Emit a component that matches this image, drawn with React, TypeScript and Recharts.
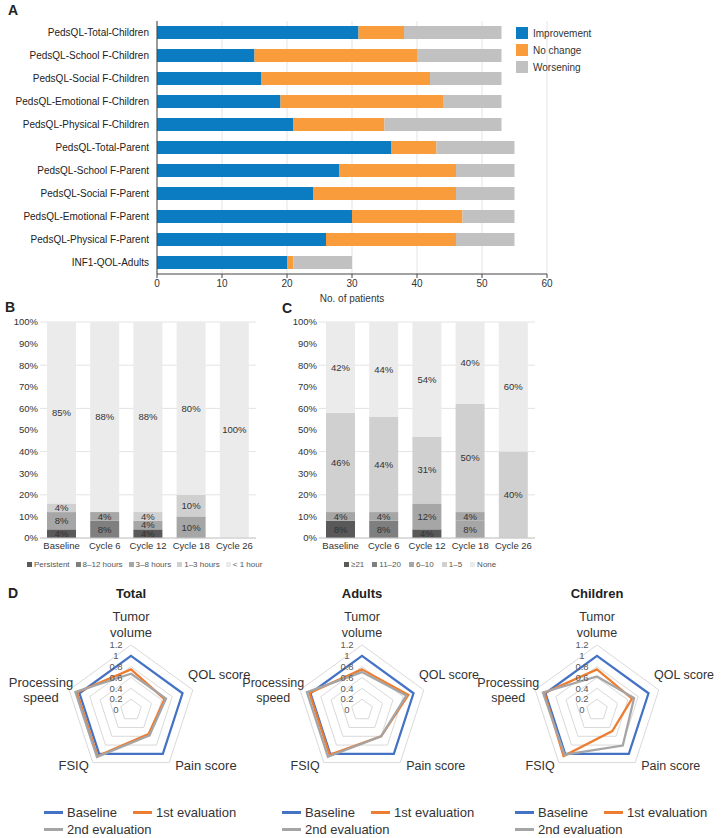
import React from 'react';
import {
  BarChart, Bar, XAxis, YAxis, CartesianGrid, LabelList, Cell,
  RadarChart, Radar, PolarGrid, PolarAngleAxis, PolarRadiusAxis,
} from 'recharts';

const FONT = '"Liberation Sans", Arial, Helvetica, sans-serif';

// ---- Panel A: change in QOL scores ----
const qolMeasures = [
  'PedsQL-Total-Children', 'PedsQL-School F-Children', 'PedsQL-Social F-Children',
  'PedsQL-Emotional F-Children', 'PedsQL-Physical F-Children', 'PedsQL-Total-Parent',
  'PedsQL-School F-Parent', 'PedsQL-Social F-Parent', 'PedsQL-Emotional F-Parent',
  'PedsQL-Physical F-Parent', 'INF1-QOL-Adults',
];
const improvement = [31, 15, 16, 19, 21, 36, 28, 24, 30, 26, 20];
const noChange = [7, 25, 26, 25, 14, 7, 18, 22, 17, 20, 1];
const worsening = [15, 13, 11, 9, 18, 12, 9, 9, 8, 9, 9];
const patientTicks = [0, 10, 20, 30, 40, 50, 60];

// ---- Panels B and C ----
const cycles = ['Baseline', 'Cycle 6', 'Cycle 12', 'Cycle 18', 'Cycle 26'];
const pctTicks = [0, 10, 20, 30, 40, 50, 60, 70, 80, 90, 100];

const durationLabels = ['Persistent', '8–12 hours', '3–8 hours', '1–3 hours', '< 1 hour'];
const persistentPct = [4, 0, 4, 0, 0];
const h8to12Pct = [0, 8, 0, 0, 0];
const h3to8Pct = [8, 4, 4, 10, 0];
const h1to3Pct = [4, 0, 4, 10, 0];
const under1hPct = [85, 88, 88, 80, 100];

const countLabels = ['≥21', '11–20', '6–10', '1–5', 'None'];
const over21Pct = [8, 0, 4, 0, 0];
const c11to20Pct = [0, 8, 0, 8, 0];
const c6to10Pct = [4, 4, 12, 4, 0];
const c1to5Pct = [46, 44, 31, 50, 40];
const noneCountPct = [42, 44, 54, 40, 60];

// ---- Panel D: radar ----
const radarAxes = ['Tumor volume', 'QOL score', 'Pain score', 'FSIQ', 'Processing speed'];
const radarTicks = [0, 0.2, 0.4, 0.6, 0.8, 1, 1.2];
const totalBaseline = [1, 1, 1, 1, 1];
const total1st = [0.75, 0.65, 0.55, 1.05, 1.05];
const total2nd = [0.67, 0.68, 0.58, 1.07, 1.08];
const adultsBaseline = [1, 1, 1, 1, 1];
const adults1st = [0.75, 0.9, 0.6, 1.02, 1.02];
const adults2nd = [0.7, 0.86, 0.6, 1.07, 1.07];
const childrenBaseline = [1, 1, 1, 1, 1];
const children1st = [0.75, 0.68, 0.48, 1.05, 1.02];
const children2nd = [0.62, 0.72, 0.81, 1.02, 1.05];

const GRAYS = ['#595959', '#7f7f7f', '#a6a6a6', '#d0d0d0', '#ebebeb'];
const KEYS = ['k0', 'k1', 'k2', 'k3', 'k4'];

const qolRows = qolMeasures.map((m, i) => ({
  measure: m, improvement: improvement[i], noChange: noChange[i], worsening: worsening[i],
}));

const toRows = (series: number[][]) =>
  cycles.map((c, i) => {
    const row: any = { cycle: c };
    series.forEach((s, k) => { row[KEYS[k]] = s[i]; });
    return row;
  });

const durationRows = toRows([persistentPct, h8to12Pct, h3to8Pct, h1to3Pct, under1hPct]);
const countRows = toRows([over21Pct, c11to20Pct, c6to10Pct, c1to5Pct, noneCountPct]);

const radarRows = (a: number[], b: number[], c: number[]) =>
  radarAxes.map((ax, i) => ({ axis: ax, baseline: a[i], first: b[i], second: c[i] }));

let ctx: CanvasRenderingContext2D | null = null;
const textWidth = (s: string, size: number) => {
  if (!ctx && typeof document !== 'undefined') ctx = document.createElement('canvas').getContext('2d');
  if (!ctx) return s.length * size * 0.5;
  ctx.font = `${size}px "Liberation Sans"`;
  return ctx.measureText(s).width;
};

const R = 65; // outer radius (= 1.2)

// Excel-like placement of the spoke labels, relative to the outer vertex
const makeAngleTick = (cx: number, cy: number, fs: number) => (props: any) => {
  const { x, y, payload } = props;
  const dx = x - cx, dy = y - cy;
  const d = Math.hypot(dx, dy) || 1;
  const vx = cx + (dx / d) * R, vy = cy + (dy / d) * R;
  const label = String(payload.value);
  const lines = label.length > 10 ? label.split(' ') : [label];
  const n = lines.length;
  const maxW = Math.max(...lines.map((l) => textWidth(l, fs)));
  let mid = vx;
  let base: number[];
  if (Math.abs(dx) < 1) {
    base = lines.map((_, i) => vy - 8 - (n - 1 - i) * 16);
  } else if (dy < 0) {
    if (n > 1) {
      mid = dx < 0 ? vx + 4 - maxW / 2 : vx - 4 + maxW / 2;
      base = lines.map((_, i) => vy - 2.5 + i * 15);
    } else {
      mid = dx > 0 ? vx - 5 + maxW / 2 : vx + 5 - maxW / 2;
      base = [vy - 10.5];
    }
  } else {
    mid = dx > 0 ? vx + 6 + maxW / 2 : vx - 4 - maxW / 2;
    base = lines.map((_, i) => vy + 7 + i * 15);
  }
  return (
    <text textAnchor="middle" fontSize={fs} fill="#333" fontFamily={FONT}>
      {lines.map((l, i) => <tspan key={i} x={mid} y={base[i]}>{l}</tspan>)}
    </text>
  );
};

const RadiusTick = (props: any) => {
  const { x, y, payload } = props;
  return (
    <text x={x - 15} y={y} dy="0.35em" textAnchor="middle" fontSize={9.5} fill="#595959" fontFamily={FONT}>
      {Number(Number(payload.value).toFixed(1))}
    </text>
  );
};

const CategoryTick = (props: any) => {
  const { x, y, payload } = props;
  return (
    <text x={x} y={y} dy="0.35em" textAnchor="end" fontSize={10} fill="#222" fontFamily={FONT}>
      {payload.value}
    </text>
  );
};

const PanelLetter = ({ ch, left, top }: { ch: string; left: number; top: number }) => (
  <div style={{ position: 'absolute', left, top, fontSize: 14, fontWeight: 700, lineHeight: '14px' }}>{ch}</div>
);

const PctChart = ({ rows, left, fills }: { rows: any[]; left: number; fills?: Record<string, string[]> }) => (
  <div style={{ position: 'absolute', left, top: 312 }}>
    <BarChart width={265} height={248} data={rows} margin={{ top: 10, right: 9, bottom: 0, left: 0 }}>
      <CartesianGrid vertical={false} stroke="#e4e4e4" />
      <XAxis dataKey="cycle" height={22} tickLine={false} tickSize={2} axisLine={{ stroke: '#c8c8c8' }}
        tick={{ fontSize: 9.5, fill: '#333' }} interval={0} />
      <YAxis type="number" domain={[0, 100]} ticks={pctTicks} allowDataOverflow width={40}
        axisLine={false} tickLine={false} tickSize={0} tickMargin={2}
        tickFormatter={(v) => `${v}%`} tick={{ fontSize: 9.5, fill: '#333' }} />
      {KEYS.map((k, j) => (
        <Bar key={k} dataKey={k} stackId="s" fill={GRAYS[j]} barSize={29} isAnimationActive={false}>
          {fills && fills[k] && rows.map((_, i) => <Cell key={i} fill={fills[k][i]} />)}
          <LabelList dataKey={k} position="center" fontSize={9.5} fill="#333"
            formatter={(v: any) => (v ? `${v}%` : '')} />
        </Bar>
      ))}
    </BarChart>
  </div>
);

const SmallLegend = ({ labels, left, gap }: { labels: string[]; left: number; gap: number }) => (
  <div style={{ position: 'absolute', left, top: 560, display: 'flex', gap, fontSize: 8, color: '#555', whiteSpace: 'nowrap' }}>
    {labels.map((l, i) => (
      <span key={l} style={{ display: 'flex', alignItems: 'center', gap: 2 }}>
        <span style={{ width: 5, height: 5, background: GRAYS[i], display: 'inline-block' }} />
        {l}
      </span>
    ))}
  </div>
);

const RadarPanel = (p: {
  title: string; rows: any[]; left: number; width: number; cx: number; legendX: number; fs: number;
}) => (
  <>
    <div style={{ position: 'absolute', left: p.left + p.cx - 60, width: 120, top: 586, textAlign: 'center', fontSize: 13, fontWeight: 700 }}>
      {p.title}
    </div>
    <div style={{ position: 'absolute', left: p.left, top: 600 }}>
      <RadarChart width={p.width} height={190} data={p.rows} cx={p.cx} cy={110} outerRadius={R}>
        <PolarGrid gridType="polygon" radialLines={false} stroke="#d9d9d9" polarRadius={radarTicks.map((t) => (t / 1.2) * R)} />
        <PolarAngleAxis dataKey="axis" tick={makeAngleTick(p.cx, 110, p.fs)} tickLine={false} axisLine={false} />
        <PolarRadiusAxis type="number" angle={90} domain={[0, 1.2]} ticks={radarTicks as any} tickCount={7}
          allowDataOverflow allowDecimals axisLine={false} tickLine={false} tick={RadiusTick} />
        <Radar dataKey="baseline" stroke="#4472c4" strokeWidth={2.25} fill="none" dot={false} isAnimationActive={false} />
        <Radar dataKey="first" stroke="#ed7d31" strokeWidth={2.25} fill="none" dot={false} isAnimationActive={false} />
        <Radar dataKey="second" stroke="#a5a5a5" strokeWidth={2.25} fill="none" dot={false} isAnimationActive={false} />
      </RadarChart>
    </div>
    {[
      { t: 'Baseline', c: '#4472c4', x: 0, y: 0 },
      { t: '1st evaluation', c: '#ed7d31', x: 89, y: 0 },
      { t: '2nd evaluation', c: '#a5a5a5', x: 0, y: 17 },
    ].map((it) => (
      <div key={it.t} style={{ position: 'absolute', left: p.legendX + it.x, top: 805 + it.y, display: 'flex', alignItems: 'center', gap: 4, fontSize: 13, color: '#333', whiteSpace: 'nowrap' }}>
        <span style={{ width: 19, height: 2.5, background: it.c, display: 'inline-block' }} />
        {it.t}
      </div>
    ))}
  </>
);

const legendA = [
  { t: 'Improvement', c: '#0b7cc1' },
  { t: 'No change', c: '#f89c3c' },
  { t: 'Worsening', c: '#c1c1c1' },
];

export default function App() {
  return (
    <div style={{ position: 'absolute', left: 0, top: 0, width: 726, height: 838, background: '#fff', fontFamily: FONT, color: '#222', overflow: 'hidden' }}>
      <PanelLetter ch="A" left={8} top={3} />
      <div style={{ position: 'absolute', left: 0, top: 0 }}>
        <BarChart width={560} height={304} data={qolRows} layout="vertical" margin={{ top: 21, right: 13, bottom: 0, left: 0 }}>
          <CartesianGrid horizontal={false} stroke="#e3e3e3" />
          <XAxis type="number" domain={[0, 60]} ticks={patientTicks} height={30} tickSize={4}
            axisLine={{ stroke: '#444' }} tickLine={{ stroke: '#444' }} tick={{ fontSize: 10, fill: '#333' }}
            label={{ value: 'No. of patients', position: 'insideBottom', offset: 2, fontSize: 10, fill: '#333' }} />
          <YAxis type="category" dataKey="measure" width={157} tickLine={false} axisLine={{ stroke: '#444' }}
            tick={CategoryTick} interval={0} />
          <Bar dataKey="improvement" stackId="a" fill="#0b7cc1" barSize={13} isAnimationActive={false} />
          <Bar dataKey="noChange" stackId="a" fill="#f89c3c" barSize={13} isAnimationActive={false} />
          <Bar dataKey="worsening" stackId="a" fill="#c1c1c1" barSize={13} isAnimationActive={false} />
        </BarChart>
      </div>
      {legendA.map((it, i) => (
        <div key={it.t} style={{ position: 'absolute', left: 516, top: 27 + i * 17, display: 'flex', alignItems: 'center', gap: 5, fontSize: 10, color: '#333' }}>
          <span style={{ width: 12, height: 12, background: it.c, display: 'inline-block' }} />
          {it.t}
        </div>
      ))}

      <PanelLetter ch="B" left={5} top={300} />
      <PctChart rows={durationRows} left={0} />
      <SmallLegend labels={durationLabels} left={27} gap={6} />

      <PanelLetter ch="C" left={282} top={301} />
      <PctChart rows={countRows} left={279}
        fills={{ k1: ['#7f7f7f', '#7f7f7f', '#7f7f7f', '#a6a6a6', '#7f7f7f'] }} />
      <SmallLegend labels={countLabels} left={344} gap={8} />

      <PanelLetter ch="D" left={8} top={586} />
      <RadarPanel title="Total" rows={radarRows(totalBaseline, total1st, total2nd)} left={0} width={262} cx={131} legendX={44} fs={13} />
      <RadarPanel title="Adults" rows={radarRows(adultsBaseline, adults1st, adults2nd)} left={241} width={242} cx={121} legendX={282} fs={12.5} />
      <RadarPanel title="Children" rows={radarRows(childrenBaseline, children1st, children2nd)} left={476} width={250} cx={121} legendX={515} fs={12.5} />
    </div>
  );
}
